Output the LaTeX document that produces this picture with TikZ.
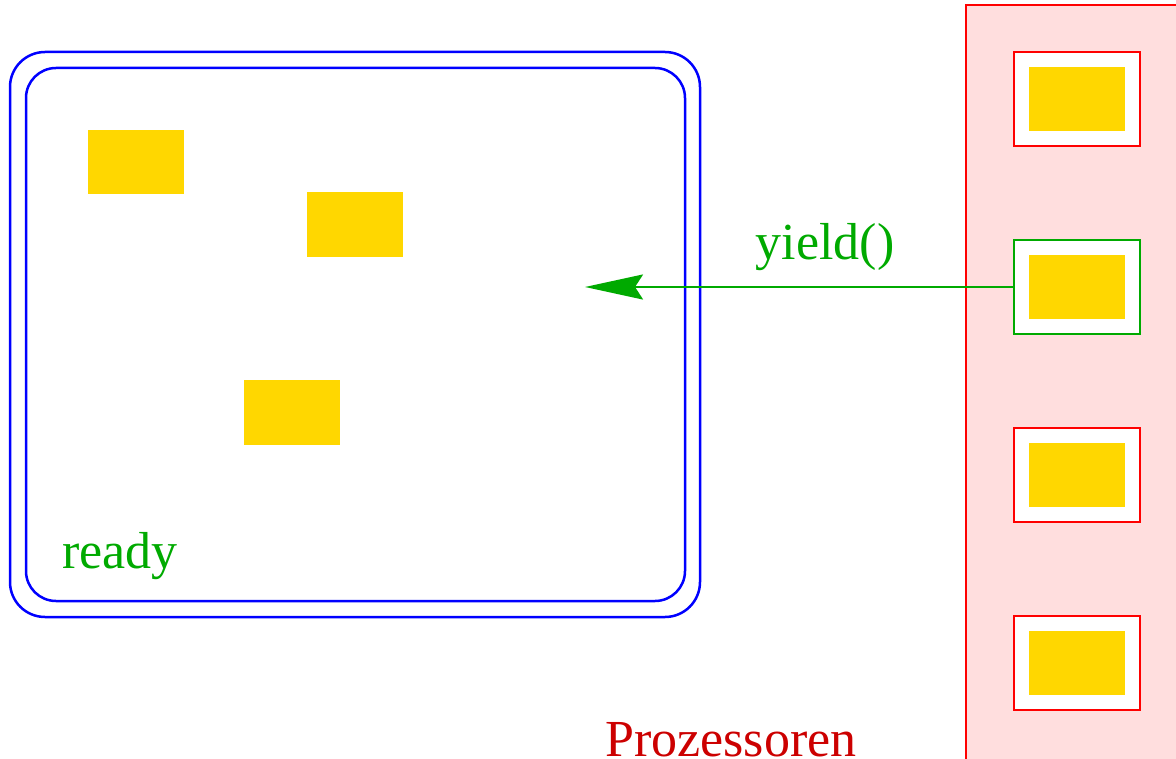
\documentclass[tikz,border=0pt]{standalone}
\usepackage{fontspec}
\setmainfont{Liberation Serif}
\usetikzlibrary{arrows.meta}
\definecolor{myblue}{RGB}{0,0,255}
\definecolor{myred}{RGB}{255,0,0}
\definecolor{mygreen}{RGB}{0,170,0}
\definecolor{darkred}{RGB}{204,0,0}
\definecolor{gold}{RGB}{255,215,0}
\definecolor{pink}{RGB}{255,222,222}
\tikzset{
  job/.style={fill=gold, draw=none},
  frame/.style={draw=myblue, line width=2.5pt},
  slot/.style={draw=myred, fill=white, line width=2.5pt},
  lbl/.style={font=\fontsize{52}{60}\selectfont, inner sep=0pt},
}
\begin{document}
\begin{tikzpicture}[x=1pt,y=-1pt]
\useasboundingbox (0,0) rectangle (1176,759);
% ready queue
\draw[frame, rounded corners=35pt] (10,52) rectangle (700,617);
\draw[frame, rounded corners=30pt] (26,68) rectangle (685,601);
\fill[job] (88,130) rectangle (184,194);
\fill[job] (307,192) rectangle (403,257);
\fill[job] (244,380) rectangle (340,445);
\node[lbl, text=mygreen, anchor=base west] (ready) at (62,568) {ready};
% processors
\draw[draw=myred, fill=pink, line width=2.5pt] (966,5) rectangle (1190,775);
\draw[slot] (1014,52) rectangle (1140,146);
\fill[job] (1029,67) rectangle (1125,131);
\node[slot, draw=mygreen, minimum width=126pt, minimum height=94pt, inner sep=0pt] (p2) at (1077,287) {};
\fill[job] (1029,255) rectangle (1125,319);
\draw[slot] (1014,428) rectangle (1140,522);
\fill[job] (1029,443) rectangle (1125,507);
\draw[slot] (1014,616) rectangle (1140,710);
\fill[job] (1029,631) rectangle (1125,695);
\node[lbl, text=darkred, anchor=base west] (proz) at (605,756) {Prozessoren};
% yield arrow
\coordinate (tip) at (585,287);
\draw[mygreen, line width=2.5pt, -{Stealth[length=58pt, width=25pt, inset=8pt]}] (p2.west) -- (tip);
\node[lbl, text=mygreen, anchor=base] (yield) at (825,260) {yield()};
\end{tikzpicture}
\end{document}
